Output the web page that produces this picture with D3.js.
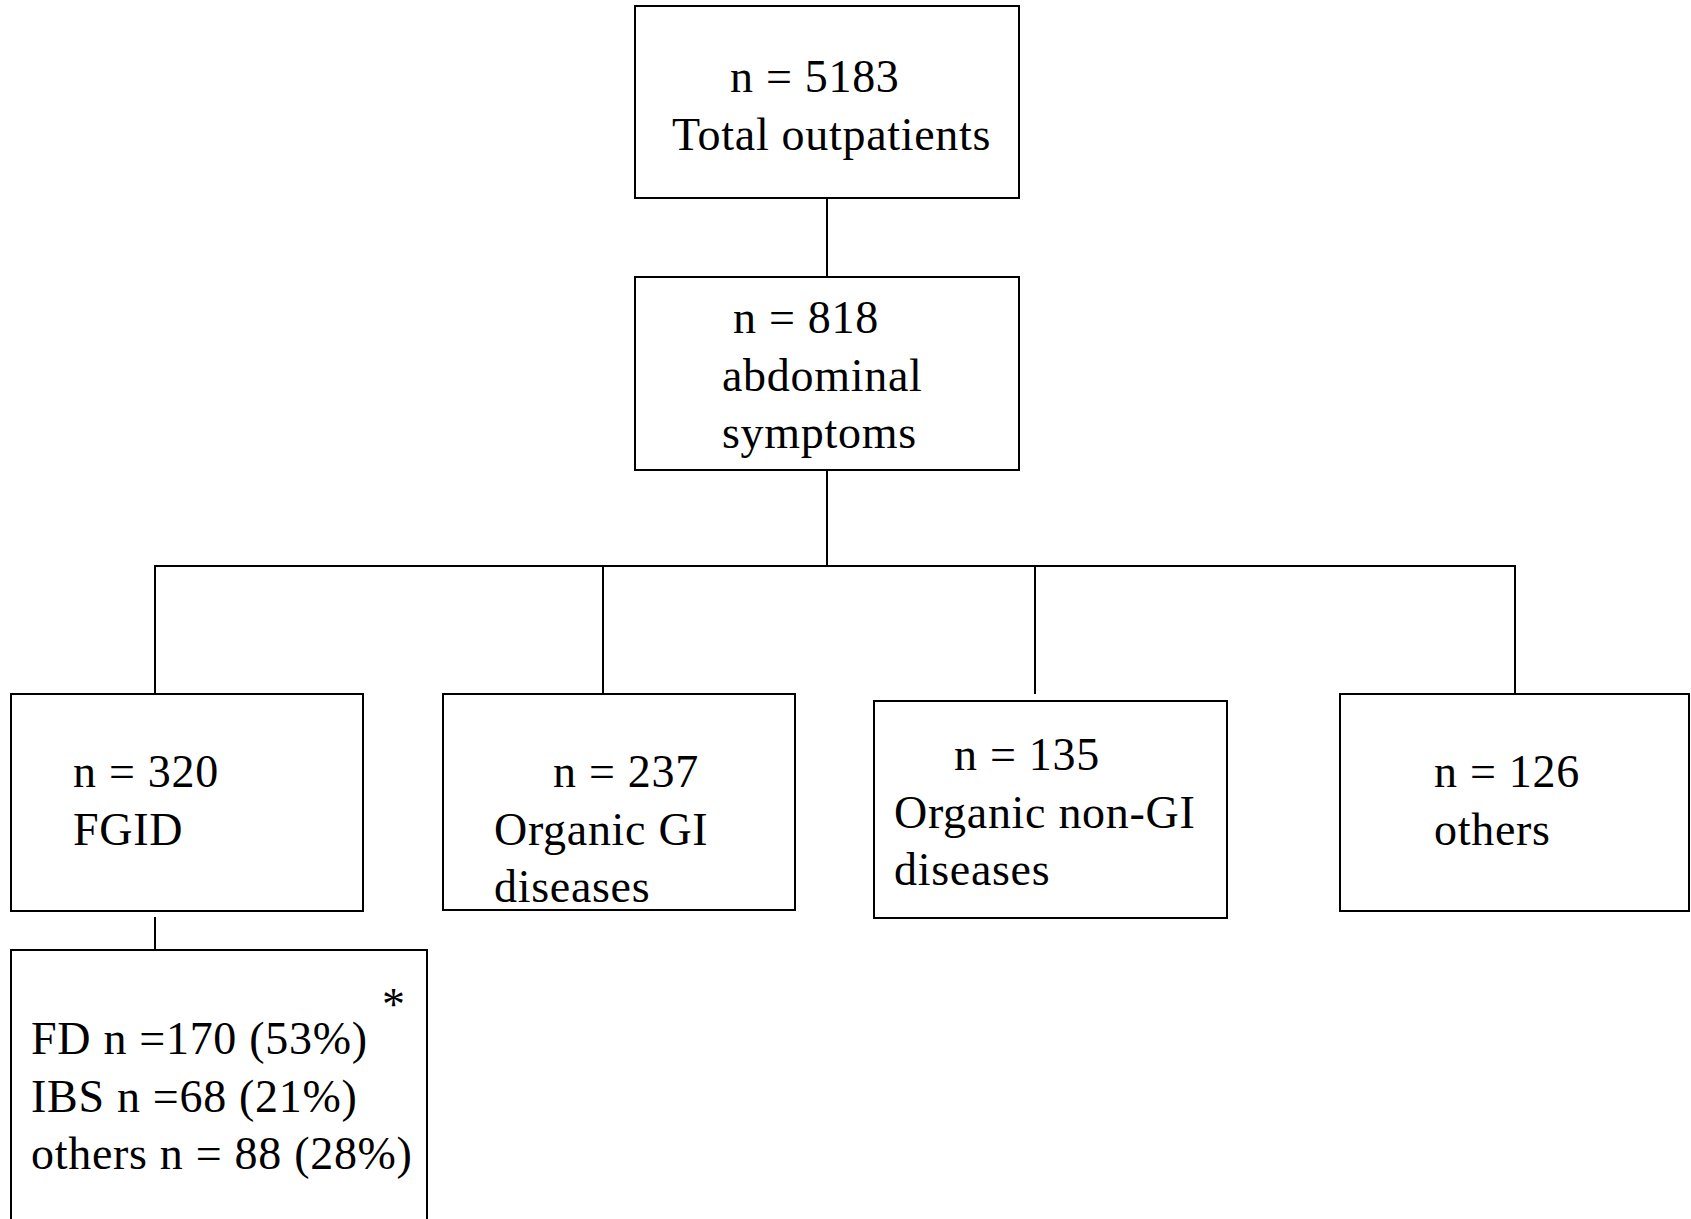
<!DOCTYPE html>
<html><head><meta charset="utf-8">
<script src="https://cdn.jsdelivr.net/npm/d3@7"></script>
<style>html,body{margin:0;padding:0;background:#fff;overflow:hidden}</style>
</head><body>
<script>
// ---- data ----
const nodeIds = ["total", "abd", "fgid", "orgGI", "orgNonGI", "others"];
const nodeCounts = [5183, 818, 320, 237, 135, 126];
const nodeLabels = [["Total outpatients"], ["abdominal", "symptoms"], ["FGID"], ["Organic GI", "diseases"], ["Organic non-GI", "diseases"], ["others"]];
const subTypes = ["FD", "IBS", "others"];
const subCounts = [170, 68, 88];
const subPercents = [53, 21, 28];
const subTexts = ["FD n =170 (53%)", "IBS n =68 (21%)", "others n = 88 (28%)"];
const links = [["total", "abd"], ["abd", "fgid"], ["abd", "orgGI"], ["abd", "orgNonGI"], ["abd", "others"], ["fgid", "sub"]];

// ---- layout (positions / sizes) ----
const layout = {
  total:    {x0: 635, x1: 1019, y0: 6,   y1: 198, tx: [730, 672], ty: 92},
  abd:      {x0: 635, x1: 1019, y0: 277, y1: 470, tx: [733, 722, 722], ty: 333},
  fgid:     {x0: 11,  x1: 363,  y0: 694, y1: 911, tx: [73, 73], ty: 787, cx: 155},
  orgGI:    {x0: 443, x1: 795,  y0: 694, y1: 910, tx: [553, 494, 494], ty: 787, cx: 603},
  orgNonGI: {x0: 874, x1: 1227, y0: 701, y1: 918, tx: [954, 894, 894], ty: 770, cx: 1035},
  others:   {x0: 1340, x1: 1689, y0: 694, y1: 911, tx: [1434, 1434], ty: 787, cx: 1515},
  sub:      {x0: 11,  x1: 427,  y0: 950, y1: 1260, tx: 31, ty: 1054}
};
const lineH = 57.5;
const busY = 566;
const fontSize = 46;

const W = 1691, H = 1219;
const svg = d3.select("body").append("svg").attr("width", W).attr("height", H)
  .style("font-family", "'Liberation Serif', 'Times New Roman', serif");

const g = svg.append("g").attr("stroke", "#000").attr("stroke-width", 2).attr("fill", "none");

// boxes
const boxIds = nodeIds.concat(["sub"]);
g.selectAll("rect.box").data(boxIds).join("rect").attr("class", "box")
  .attr("x", d => layout[d].x0).attr("y", d => layout[d].y0)
  .attr("width", d => layout[d].x1 - layout[d].x0)
  .attr("height", d => layout[d].y1 - layout[d].y0)
  .attr("fill", "#fff");

// connectors
const mainX = 827;
const line = d3.line();
const paths = [];
paths.push([[mainX, layout.total.y1], [mainX, layout.abd.y0]]);
paths.push([[mainX, layout.abd.y1], [mainX, busY]]);
const children = links.filter(l => l[0] === "abd").map(l => l[1]);
const xs = children.map(c => layout[c].cx);
paths.push([[d3.min(xs), busY], [d3.max(xs), busY]]);
children.forEach(c => paths.push([[layout[c].cx, busY], [layout[c].cx, c === "orgNonGI" ? 693 : layout[c].y0]]));
paths.push([[layout.fgid.cx, 918], [layout.fgid.cx, layout.sub.y0]]);
g.selectAll("path.link").data(paths).join("path").attr("class", "link")
  .attr("d", d => line(d)).attr("stroke-linecap", "square");

// texts
const tg = svg.append("g").attr("fill", "#000").style("font-size", fontSize + "px")
  .style("letter-spacing", "0.7px");
nodeIds.forEach((id, i) => {
  const L = layout[id];
  const lines = ["n = " + nodeCounts[i]].concat(nodeLabels[i]);
  lines.forEach((t, j) => {
    tg.append("text").attr("x", L.tx[j]).attr("y", L.ty + j * lineH).text(t);
  });
});
subTexts.forEach((t, j) => {
  tg.append("text").attr("x", layout.sub.tx).attr("y", layout.sub.ty + j * lineH).text(t);
});
tg.append("text").attr("x", 382).attr("y", 1020).text("*");
</script>
</body></html>
